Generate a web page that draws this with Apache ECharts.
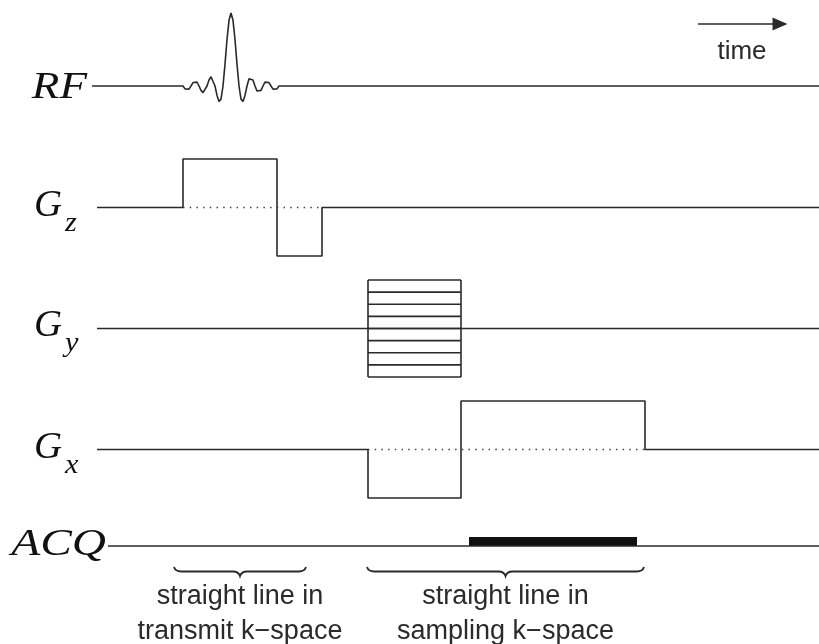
<!DOCTYPE html>
<html>
<head>
<meta charset="utf-8">
<script src="https://cdn.jsdelivr.net/npm/echarts@6/dist/echarts.min.js"></script>
<style>
  html, body { margin: 0; padding: 0; background: #ffffff; }
  #chart { width: 819px; height: 644px; }
</style>
</head>
<body>
<div id="chart"></div>
<script>
// ---- Pulse sequence timing (time axis in arbitrary units) ----
const timeRange = [0, 819];

// RF channel: flat lead, sinc excitation pulse, flat tail
const rfSpan = [92, 819];
const rfPulseStart = 183;
const rfSampleStep = 2;
const rfSinc = [
  0, -0.039, -0.058, -0.043, 0, 0.047, 0.071, 0.053,
  0, -0.060, -0.091, -0.069, 0, 0.082, 0.127, 0.100,
  0, -0.129, -0.212, -0.180, 0, 0.300, 0.637, 0.900,
  1,
  0.900, 0.637, 0.300, 0, -0.180, -0.212, -0.129, 0,
  0.100, 0.127, 0.082, 0, -0.069, -0.091, -0.060, 0,
  0.053, 0.071, 0.047, 0, -0.043, -0.058, -0.039, 0
];

// Slice-select gradient with rephasing lobe
const gzTimes  = [97, 183, 183, 277, 277, 322, 322, 819];
const gzLevels = [0, 0, 1, 1, -1, -1, 0, 0];
const gzZeroRef = [183, 322];

// Phase-encode gradient table
const gySpan = [97, 819];
const gyTableSpan = [368, 461];
const gySteps = [1, 0.75, 0.5, 0.25, 0, -0.25, -0.5, -0.75, -1];

// Readout gradient: prephaser then readout plateau
const gxTimes  = [97, 368, 368, 461, 461, 645, 645, 819];
const gxLevels = [0, 0, -1, -1, 1, 1, 0, 0];
const gxZeroRef = [368, 645];

// Acquisition window
const acqSpan = [108, 819];
const acqWindow = [469, 637];

// Annotations
const braceSpans = [[174, 306], [367, 644]];
const braceLabels = ['straight line in\ntransmit k\u2212space', 'straight line in\nsampling k\u2212space'];
const timeArrow = [698, 780];
const timeArrowLevel = 0.85;
const timeLabel = 'time';

// Channel labels: main symbol + subscript
const channelNames = ['RF', 'G', 'G', 'G', 'ACQ'];
const channelSubs  = ['', 'z', 'y', 'x', ''];

// ---- Layout ----
const INK = '#2a2a2a';
const LINE_W = 1.6;
const grids = [
  { left: 0, right: 0, top: 13,  height: 146 }, // RF
  { left: 0, right: 0, top: 159, height: 97 },  // Gz
  { left: 0, right: 0, top: 280, height: 97 },  // Gy
  { left: 0, right: 0, top: 401, height: 97 },  // Gx
  { left: 0, right: 0, top: 537, height: 18 },  // ACQ
  { left: 0, right: 0, top: 567, height: 9 }    // braces
];
const xAxes = grids.map((g, i) => ({
  type: 'value', gridIndex: i, min: timeRange[0], max: timeRange[1], show: false
}));
const yAxes = grids.map((g, i) => ({
  type: 'value', gridIndex: i, min: i === 5 ? 0 : -1, max: 1, show: false
}));

const solid = { color: INK, width: LINE_W, type: 'solid' };
const dotted = { color: '#444', width: 1.5, type: [1.5, 5.2] };

function seg(idx, points, style, extra) {
  return Object.assign({
    type: 'line', xAxisIndex: idx, yAxisIndex: idx, data: points,
    symbol: 'none', clip: false, silent: true, lineStyle: style
  }, extra || {});
}

const series = [];

// RF waveform
const rfData = [[rfSpan[0], 0]];
rfSinc.forEach((v, i) => rfData.push([rfPulseStart + i * rfSampleStep, v]));
rfData.push([rfSpan[1], 0]);
series.push(seg(0, rfData, solid, {
  markLine: {
    silent: true, symbol: ['none', 'triangle'], symbolSize: [13, 15],
    label: { show: false },
    lineStyle: { color: INK, width: LINE_W, type: 'solid' },
    data: [[{ coord: [timeArrow[0], timeArrowLevel] }, { coord: [timeArrow[1], timeArrowLevel] }]]
  }
}));

// Gz
series.push(seg(1, gzTimes.map((t, i) => [t, gzLevels[i]]), solid));
series.push(seg(1, gzZeroRef.map(t => [t, 0]), dotted));

// Gy: baseline, table steps, table edges
series.push(seg(2, gySpan.map(t => [t, 0]), solid));
gySteps.forEach(s => series.push(seg(2, gyTableSpan.map(t => [t, s]), solid)));
gyTableSpan.forEach(t => series.push(seg(2, [[t, gySteps[0]], [t, gySteps[gySteps.length - 1]]], solid)));

// Gx
series.push(seg(3, gxTimes.map((t, i) => [t, gxLevels[i]]), solid));
series.push(seg(3, gxZeroRef.map(t => [t, 0]), dotted));

// ACQ baseline and window
series.push(seg(4, acqSpan.map(t => [t, 0]), solid));
series.push({
  type: 'custom', xAxisIndex: 4, yAxisIndex: 4, clip: false, silent: true,
  data: [acqWindow],
  renderItem(params, api) {
    const p0 = api.coord([api.value(0), 1]);
    const p1 = api.coord([api.value(1), 0]);
    return {
      type: 'rect',
      shape: { x: p0[0], y: p0[1], width: p1[0] - p0[0], height: p1[1] - p0[1] },
      style: { fill: '#111' }
    };
  }
});

// Underbraces with captions
series.push({
  type: 'custom', xAxisIndex: 5, yAxisIndex: 5, clip: false, silent: true,
  data: braceSpans.map((s, i) => [s[0], s[1], i]),
  renderItem(params, api) {
    const x0 = api.value(0), x1 = api.value(1);
    const pl = api.coord([x0, 1]);
    const pr = api.coord([x1, 1]);
    const cusp = api.coord([(x0 + x1) / 2, 0]);
    const ym = api.coord([x0, 0.5])[1];
    const r = 7;
    const d = [
      'M', pl[0], pl[1],
      'Q', pl[0] + 1.5, ym, pl[0] + r, ym,
      'L', cusp[0] - r, ym,
      'Q', cusp[0] - 1.5, ym, cusp[0], cusp[1],
      'Q', cusp[0] + 1.5, ym, cusp[0] + r, ym,
      'L', pr[0] - r, ym,
      'Q', pr[0] - 1.5, ym, pr[0], pr[1]
    ].join(' ');
    return {
      type: 'group',
      children: [
        { type: 'path', shape: { pathData: d },
          style: { fill: 'none', stroke: INK, lineWidth: 1.9 } },
        { type: 'text',
          style: {
            text: braceLabels[api.value(2)], x: cusp[0], y: cusp[1] + 3,
            align: 'center', verticalAlign: 'top',
            fontFamily: '"Liberation Sans", Arial, sans-serif', fontSize: 27,
            lineHeight: 35, fill: INK
          } }
      ]
    };
  }
});

// Channel labels (math italic, widened to the proportions of a TeX italic)
const labelRight = [87, 62, 62, 62, 106];
const labelMid   = [88, 206, 326, 448, 545];
const labelWiden = [1.22, 1.05, 1.05, 1.05, 1.28];
const serif = '"Liberation Serif", "Times New Roman", serif';
const graphic = [];
channelNames.forEach((name, i) => {
  graphic.push({
    type: 'text', x: labelRight[i], y: labelMid[i], scaleX: labelWiden[i], silent: true,
    style: {
      text: name, align: 'right', verticalAlign: 'middle',
      fontFamily: serif, fontStyle: 'italic', fontSize: 37, fill: '#111'
    }
  });
  if (channelSubs[i]) {
    graphic.push({
      type: 'text', x: labelRight[i] + 3, y: labelMid[i] + 18, scaleX: 1.12, silent: true,
      style: {
        text: channelSubs[i], align: 'left', verticalAlign: 'middle',
        fontFamily: serif, fontStyle: 'italic', fontSize: 27, fill: '#111'
      }
    });
  }
});
graphic.push({
  type: 'text', x: (timeArrow[0] + timeArrow[1]) / 2 + 3, y: 52, silent: true,
  style: {
    text: timeLabel, align: 'center', verticalAlign: 'middle',
    fontFamily: '"Liberation Sans", Arial, sans-serif', fontSize: 26, fill: INK
  }
});

const chart = echarts.init(document.getElementById('chart'), null, { renderer: 'canvas' });
chart.setOption({
  backgroundColor: '#ffffff',
  animation: false,
  grid: grids,
  xAxis: xAxes,
  yAxis: yAxes,
  series: series,
  graphic: graphic
});
</script>
</body>
</html>
